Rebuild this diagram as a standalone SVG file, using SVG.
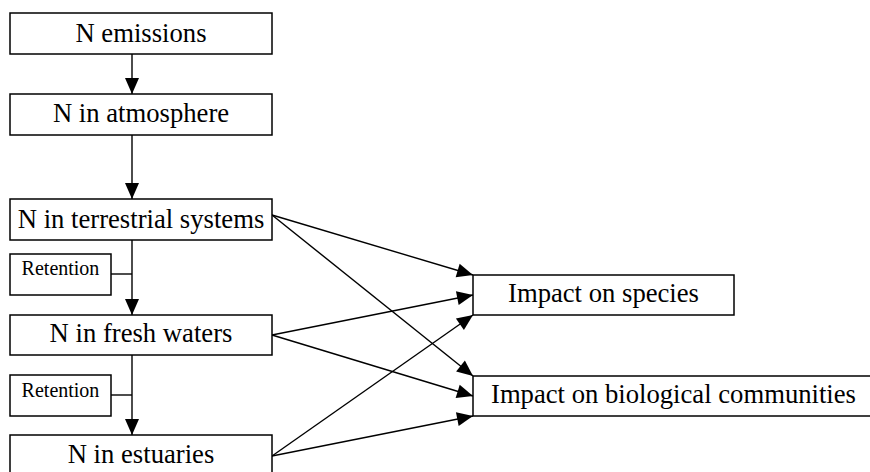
<svg xmlns="http://www.w3.org/2000/svg" width="870" height="472" viewBox="0 0 870 472">
<style>
.box{fill:#fff;stroke:#000;stroke-width:1.5}
.t{font-family:"Liberation Serif","Times New Roman",serif;font-size:26.67px;fill:#000;text-anchor:middle}
.s{font-family:"Liberation Serif","Times New Roman",serif;font-size:20px;fill:#000;text-anchor:middle}
.c{stroke:#000;stroke-width:1.4;fill:none}
.a{marker-end:url(#ah)}
</style>
<defs>
<marker id="ah" markerUnits="userSpaceOnUse" viewBox="-16 -8 16 16" markerWidth="16" markerHeight="16" refX="0" refY="0" orient="auto" overflow="visible">
<path d="M0,0 L-16,-7 L-16,7 Z" fill="#000"/>
</marker>
</defs>
<rect width="870" height="472" fill="#fff"/>
<g id="connectors">
<line class="c a" x1="132" y1="54" x2="132" y2="94"/>
<line class="c a" x1="132" y1="135" x2="132" y2="199"/>
<line class="c a" x1="132" y1="240" x2="132" y2="315"/>
<line class="c" x1="111" y1="274" x2="132" y2="274"/>
<line class="c a" x1="132" y1="355" x2="132" y2="435"/>
<line class="c" x1="111" y1="395" x2="132" y2="395"/>
<line class="c a" x1="272" y1="215" x2="473" y2="275"/>
<line class="c a" x1="272" y1="215" x2="473" y2="376"/>
<line class="c a" x1="272" y1="335" x2="473" y2="295"/>
<line class="c a" x1="272" y1="335" x2="473" y2="396"/>
<line class="c a" x1="272" y1="456" x2="473" y2="315"/>
<line class="c a" x1="272" y1="456" x2="473" y2="416"/>
</g>
<g id="n-emissions"><rect class="box" x="10" y="13" width="262" height="41"/><text class="t" x="141" y="42">N emissions</text></g>
<g id="n-atmosphere"><rect class="box" x="10" y="94" width="262" height="41"/><text class="t" x="141" y="121.5">N in atmosphere</text></g>
<g id="n-terrestrial"><rect class="box" x="10" y="199" width="262" height="41"/><text class="t" x="141" y="227.5">N in terrestrial systems</text></g>
<g id="retention-1"><rect class="box" x="10" y="254" width="101" height="41"/><text class="s" x="60.5" y="275">Retention</text></g>
<g id="n-fresh"><rect class="box" x="10" y="315" width="262" height="40"/><text class="t" x="141" y="342">N in fresh waters</text></g>
<g id="retention-2"><rect class="box" x="10" y="375" width="101" height="41"/><text class="s" x="60.5" y="397">Retention</text></g>
<g id="n-estuaries"><rect class="box" x="10" y="435" width="262" height="41"/><text class="t" x="141" y="463">N in estuaries</text></g>
<g id="impact-species"><rect class="box" x="473" y="275" width="261" height="40"/><text class="t" x="603.5" y="302">Impact on species</text></g>
<g id="impact-communities"><rect class="box" x="473" y="376" width="400" height="40"/><text class="t" x="491" y="403" style="text-anchor:start">Impact on biological communities</text></g>
</svg>
